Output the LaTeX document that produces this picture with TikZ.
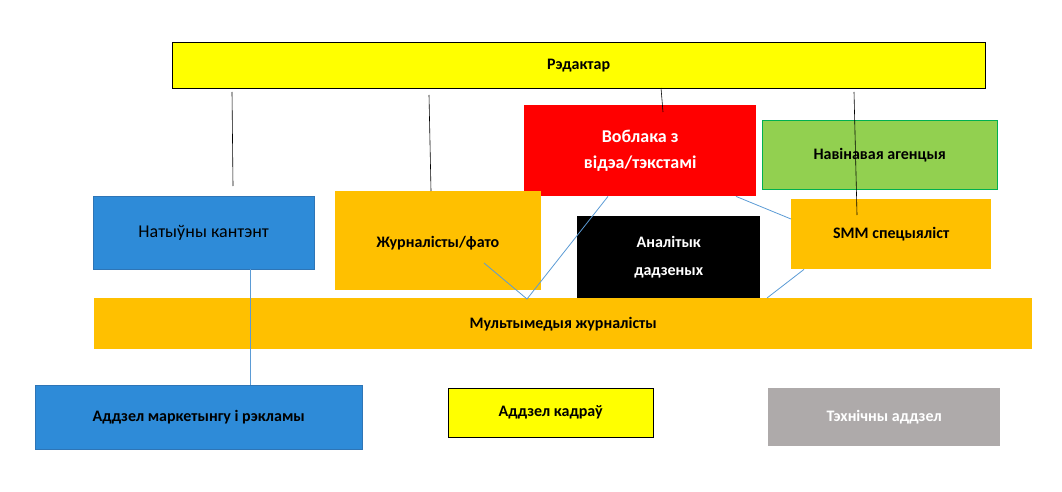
\documentclass[tikz,border=0pt]{standalone}
\usepackage{fontspec}
\setmainfont{Carlito}
\definecolor{ryellow}{HTML}{FFFF00}
\definecolor{rorange}{HTML}{FFC000}
\definecolor{rblue}{HTML}{2E8BD8}
\definecolor{rblueline}{HTML}{2E75B6}
\definecolor{rgreen}{HTML}{92D050}
\definecolor{rgreenline}{HTML}{00B050}
\definecolor{rgray}{HTML}{AEAAAA}
\definecolor{rlink}{HTML}{5B9BD5}
\begin{document}
\begin{tikzpicture}[x=1pt,y=-1pt,
  box/.style={anchor=north west, inner sep=0pt, align=center, font=\fontsize{16}{20}\selectfont\bfseries},
  link/.style={rlink, line width=0.8pt},
  tie/.style={black, line width=0.6pt}]
\useasboundingbox (0,0) rectangle (1062,492);
% top row
\node[box, draw=black, fill=ryellow, minimum width=813pt, minimum height=46pt] (red) at (172,42) {Рэдактар};
\node[box, fill=red, text=white, minimum width=232pt, minimum height=91pt, font=\fontsize{18}{26}\selectfont\bfseries] (cloud) at (524,105) {Воблака з\\відэа/тэкстамі};
\node[box, draw=rgreenline, fill=rgreen, minimum width=235pt, minimum height=69pt] (news) at (762,120) {Навінавая агенцыя};
% middle row
\node[box, draw=rblueline, fill=rblue, minimum width=221pt, minimum height=73pt, font=\fontsize{18}{22}\selectfont] (native) at (93,196) {Натыўны кантэнт};
\node[box, fill=rorange, minimum width=206pt, minimum height=99pt] (journ) at (335,191) {};
\node[font=\fontsize{16}{20}\selectfont\bfseries] (journt) at (438,243) {Журналісты/фато};
\node[box, fill=black, text=white, minimum width=183pt, minimum height=82pt, font=\fontsize{16}{28}\selectfont\bfseries] (anal) at (577,216) {Аналітык\\дадзеных};
\node[box, fill=rorange, minimum width=200pt, minimum height=70pt] (smm) at (791,199) {SMM спецыяліст};
\node[box, fill=rorange, minimum width=938pt, minimum height=51pt] (multi) at (94,298) {Мультымедыя журналісты};
% bottom row
\node[box, draw=rblueline, fill=rblue, minimum width=327pt, minimum height=64pt] (market) at (35,385) {Аддзел маркетынгу і рэкламы};
\node[box, draw=black, fill=ryellow, minimum width=205pt, minimum height=49pt] (staff) at (448,388) {Аддзел кадраў};
\node[box, fill=rgray, text=white, minimum width=232pt, minimum height=58pt] (tech) at (768,388) {Тэхнічны аддзел};
% free ends
\coordinate (t1) at (232,92);
\coordinate (t2) at (429,95);
\coordinate (t3) at (661,88);
\coordinate (t4) at (854,92);
\coordinate (m1) at (527,299);
\coordinate (j1) at (484,263);
% connectors
\draw[tie] (t1) -- (233,186);
\draw[tie] (t2) -- (journ.north west -| 431,0) ++(0,2);
\draw[tie] (t3) -- (663,112);
\draw[tie] (t4) -- (857,215);
\draw[link] (j1) -- (m1);
\draw[link] (cloud.south west -| 608,0) -- (m1);
\draw[link] (cloud.south west -| 736,0) -- (smm.west |- 0,219);
\draw[link] (smm.south west -| 804,0) -- (multi.north west -| 767,0);
\draw[link] (native.south west -| 250,0) -- (market.north west -| 250,0);
\end{tikzpicture}
\end{document}
